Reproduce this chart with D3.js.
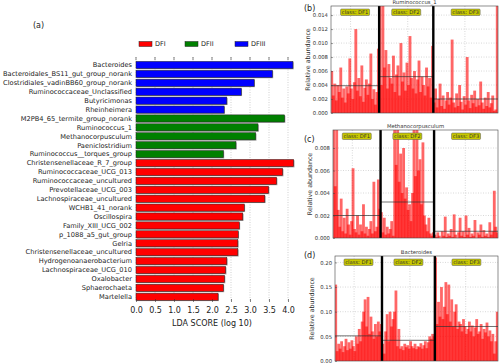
<!DOCTYPE html>
<html><head><meta charset="utf-8">
<script src="https://cdn.jsdelivr.net/npm/d3@7"></script>
<style>body{margin:0;background:#fff}svg{display:block;font-family:"DejaVu Sans",sans-serif}</style>
</head><body><svg id="c" width="500" height="364"></svg>
<script>
// ---------- panel (a) data ----------
const taxa = ["Bacteroides","Bacteroidales_BS11_gut_group_norank","Clostridiales_vadinBB60_group_norank","Ruminococcaceae_Unclassified","Butyricimonas","Rheinheimera","M2PB4_65_termite_group_norank","Ruminococcus_1","Methanocorpusculum","Paeniclostridium","Ruminococcus__torques_group","Christensenellaceae_R_7_group","Ruminococcaceae_UCG_013","Ruminococcaceae_uncultured","Prevotellaceae_UCG_003","Lachnospiraceae_uncultured","WCHB1_41_norank","Oscillospira","Family_XIII_UCG_002","p_1088_a5_gut_group","Gelria","Christensenellaceae_uncultured","Hydrogenoanaerobacterium","Lachnospiraceae_UCG_010","Oxalobacter","Sphaerochaeta","Martelella"];
const ldaScores = [4.13,3.59,3.11,2.77,2.39,2.32,3.91,3.21,3.15,2.63,2.30,4.15,3.86,3.70,3.49,3.39,2.85,2.81,2.72,2.69,2.68,2.68,2.39,2.36,2.33,2.30,2.16];
const taxaClass = ["DFIII","DFIII","DFIII","DFIII","DFIII","DFIII","DFII","DFII","DFII","DFII","DFII","DFI","DFI","DFI","DFI","DFI","DFI","DFI","DFI","DFI","DFI","DFI","DFI","DFI","DFI","DFI","DFI"];
const classNames = ["DFI","DFII","DFIII"];
const classColors = ["#ff0000","#008000","#0000ff"];
const ldaTicks = [0,0.5,1,1.5,2,2.5,3,3.5,4];

// ---------- panels (b)-(d) data: per-sample relative abundance ----------
const sectionNames = ["class: DF1","class: DF2","class: DF3"];
const rumDF1 = [6.0,2.5,4.2,1.8,4.0,3.0,6.5,2.2,3.5,1.5,3.8,2.8,7.8,3.5,2.0,4.4,12.0,3.2,5.0,2.4,6.8,1.6,3.6,4.8,2.6,4.2,8.5,2.0,3.4,1.2,3.0,9.2].map(v=>v/1000);
const rumDF2 = [15.3,4.0,15.3,6.5,9.0,3.5,7.0,5.0,4.2,8.2,3.0,5.5,6.8,2.5,10.0,4.5,5.8,3.2,7.2,4.0,11.0,5.0,3.5,6.0,2.8,4.8,7.5,3.0,5.2,4.0,2.5,6.5,3.8,5.0,2.2,9.6].map(v=>v/1000);
const rumDF3 = [1.5,3.5,0.8,2.0,4.2,1.0,2.5,0.6,1.8,3.0,1.2,2.2,10.5,1.5,0.8,2.8,1.0,4.0,1.6,0.5,2.4,1.2,8.0,1.8,0.7,2.6,1.4,3.2,0.9,2.0,1.1,4.5,1.5,0.6,2.2,1.0,3.0,0.8,1.4,2.5,0.3,0.5,15.3].map(v=>v/1000);
const rumMeans = [0.0039,0.0052,0.0020];
const rumTicks = [0,0.002,0.004,0.006,0.008,0.010,0.012,0.014];

const metDF1 = [9.6,4.6,9.6,2.5,1.0,3.5,0.6,1.8,0.4,2.6,1.2,0.3,1.5,6.2,0.8,0.5,2.0,0.3,1.2,0.6,3.0,0.4,1.0,0.2,0.8,1.5,0.4,5.0,0.6,1.0,5.2,2.6].map(v=>v/1000);
const metDF2 = [2.3,0.5,1.8,0.3,1.0,0.4,0.8,1.5,0.2,9.6,6.5,9.6,5.0,7.5,4.0,8.0,3.5,4.5,2.5,3.0,1.5,4.0,9.6,5.5,9.6,6.0,7.0,3.0,8.5,2.0,1.2,0.6,1.8,0.4,0.2,0.5].map(v=>v/1000);
const metDF3 = [0.3,0.1,0.5,0.2,0.0,0.6,0.2,1.9,0.1,0.4,0.2,0.8,0.1,2.1,0.3,0.0,0.5,1.8,0.2,0.6,0.1,2.0,0.3,0.9,0.1,0.4,0.2,1.6,0.0,0.5,0.3,1.2,0.1,0.7,0.2,0.4,0.1,1.4,0.3,0.6,4.2,1.0,0.5].map(v=>v/1000);
const metMeans = [0.0020,0.0032,0.0006];
const metTicks = [0,0.002,0.004,0.006,0.008];

const bacDF1 = [15.5,2.0,3.5,2.5,4.0,1.8,3.0,4.5,2.2,3.8,2.5,4.2,3.0,2.0,5.0,3.5,6.5,4.0,8.0,10.0,12.5,7.0,13.0,5.5,9.0,6.0,4.5,7.5,5.0,8.0,6.0,7.5].map(v=>v/100);
const bacDF2 = [3.5,1.5,6.0,9.5,4.0,10.0,7.0,8.5,10.0,14.3,3.0,6.5,2.5,3.0,2.2,3.5,2.8,3.2,2.5,4.0,3.0,2.6,3.5,2.4,3.0,2.8,3.6,2.5,3.2,4.0,2.6,3.8,5.0,4.5,5.5,5.0].map(v=>v/100);
const bacDF3 = [21.0,7.5,12.0,9.0,15.0,8.5,11.0,16.0,9.5,15.5,8.0,12.5,7.0,10.0,11.5,6.5,8.0,7.5,6.0,8.5,7.0,5.5,6.5,8.0,6.0,7.2,5.0,6.8,8.5,5.5,6.0,7.5,4.5,6.5,5.8,7.8,5.0,6.2,4.0,5.5,1.5,4.0,10.0].map(v=>v/100);
const bacMeans = [0.051,0.042,0.070];
const bacTicks = [0,0.05,0.10,0.15,0.20];

const svg = d3.select("#c");

// ---------- panel (a) ----------
svg.append("text").attr("x",33).attr("y",28).attr("font-size",8).attr("fill","#222").text("(a)");
const x = d3.scaleLinear().domain([0,4]).range([136,288]);
const y = d3.scaleBand().domain(taxa).range([60.5,301.2]).paddingInner(0.2).paddingOuter(0.1);
const color = d3.scaleOrdinal().domain(classNames).range(classColors);

const ga = svg.append("g");
ga.selectAll("line.grid").data(ldaTicks).join("line").attr("class","grid")
  .attr("x1",d=>x(d)).attr("x2",d=>x(d)).attr("y1",57).attr("y2",302)
  .attr("stroke","#b0b0b0").attr("stroke-width",0.6).attr("stroke-dasharray","1,1.5");
ga.selectAll("line.tt").data(ldaTicks).join("line").attr("class","tt")
  .attr("x1",d=>x(d)).attr("x2",d=>x(d)).attr("y1",57).attr("y2",60)
  .attr("stroke","#333").attr("stroke-width",0.6);

const bars = ga.selectAll("g.bar").data(taxa).join("g").attr("class","bar");
bars.append("rect").attr("x",x(0)+0.8).attr("y",d=>y(d)+0.8)
  .attr("width",(d,i)=>x(ldaScores[i])-x(0)).attr("height",y.bandwidth()).attr("fill","#a0a0a0");
bars.append("rect").attr("x",x(0)).attr("y",d=>y(d))
  .attr("width",(d,i)=>x(ldaScores[i])-x(0)).attr("height",y.bandwidth())
  .attr("fill",(d,i)=>color(taxaClass[i])).attr("stroke","#222").attr("stroke-width",0.5);
ga.selectAll("text.lab").data(taxa).join("text").attr("class","lab")
  .attr("x",132).attr("y",d=>y(d)+y.bandwidth()/2).attr("dy","0.35em")
  .attr("text-anchor","end").attr("font-size",6.65).attr("fill","#222").text(d=>d);

const xAxis = ga.append("g").attr("transform","translate(0,302)")
  .call(d3.axisBottom(x).tickValues(ldaTicks).tickFormat(d3.format(".1f")).tickSizeInner(-3).tickSizeOuter(0).tickPadding(5));
xAxis.select(".domain").remove();
xAxis.selectAll("line").attr("stroke","#333").attr("stroke-width",0.6);
xAxis.selectAll("text").attr("font-size",8).attr("fill","#222").attr("font-family","DejaVu Sans");
ga.append("text").attr("x",x(2)).attr("y",326).attr("text-anchor","middle").attr("font-size",8).attr("fill","#222").text("LDA SCORE (log 10)");

const legX = [139,185,235];
classNames.forEach((c,i)=>{
  ga.append("rect").attr("x",legX[i]).attr("y",41.5).attr("width",13).attr("height",5).attr("fill",classColors[i]).attr("stroke","#222").attr("stroke-width",0.5);
  ga.append("text").attr("x",legX[i]+16).attr("y",44).attr("dy","0.35em").attr("font-size",6.5).attr("fill","#222").text(c);
});

// ---------- panels (b)-(d) ----------
function drawPanel(cfg){
  const g = svg.append("g");
  const sections = cfg.sections;
  const total = d3.sum(sections, s=>s.length);
  const xs = d3.scaleLinear().domain([0,total]).range([cfg.left,cfg.right]);
  const ys = d3.scaleLinear().domain([0,cfg.yMax]).range([cfg.bottom,cfg.top]);
  const clipId = "clip"+cfg.letter;
  svg.append("clipPath").attr("id",clipId).append("rect")
    .attr("x",cfg.left).attr("y",cfg.top).attr("width",cfg.right-cfg.left).attr("height",cfg.bottom-cfg.top);
  g.selectAll("line.hg").data(cfg.ticks.slice(1)).join("line").attr("class","hg")
    .attr("x1",cfg.left).attr("x2",cfg.right).attr("y1",d=>ys(d)).attr("y2",d=>ys(d))
    .attr("stroke","#b0b0b0").attr("stroke-width",0.5).attr("stroke-dasharray","1,1.5");
  g.selectAll("line.vg").data(cfg.vgrid).join("line").attr("class","vg")
    .attr("x1",d=>xs(d)).attr("x2",d=>xs(d)).attr("y1",cfg.top).attr("y2",cfg.bottom)
    .attr("stroke","#b0b0b0").attr("stroke-width",0.5).attr("stroke-dasharray","1,1.5");
  const step = xs(1)-xs(0);
  const gb = g.append("g").attr("clip-path",`url(#${clipId})`);
  let offset = 0;
  const bounds = [];
  sections.forEach((s,si)=>{
    const start = offset;
    const end = offset + s.length;
    gb.selectAll(null).data(s).join("rect")
      .attr("x",(d,i)=>xs(start+i)-0.45*step)
      .attr("width",(d,i)=>Math.min(step*1.9, xs(end)-(xs(start+i)-0.45*step)))
      .attr("y",d=>ys(d)).attr("height",d=>ys(0)-ys(d))
      .attr("fill","#ff0000").attr("fill-opacity",0.6);
    offset = end;
    bounds.push([start,end]);
  });
  bounds.forEach((b,i)=>{
    g.append("line").attr("x1",xs(b[0])).attr("x2",xs(b[1])).attr("y1",ys(cfg.means[i])).attr("y2",ys(cfg.means[i]))
      .attr("stroke","#333").attr("stroke-width",0.7);
  });
  bounds.slice(0,-1).forEach(b=>{
    g.append("line").attr("x1",xs(b[1])).attr("x2",xs(b[1])).attr("y1",cfg.top).attr("y2",cfg.bottom)
      .attr("stroke","#000").attr("stroke-width",2.4);
  });
  g.append("rect").attr("x",cfg.left).attr("y",cfg.top).attr("width",cfg.right-cfg.left).attr("height",cfg.bottom-cfg.top)
    .attr("fill","none").attr("stroke","#444").attr("stroke-width",0.6);
  bounds.forEach((b,i)=>{
    const cx = (xs(b[0])+xs(b[1]))/2;
    g.append("rect").attr("x",cx-14.5).attr("y",cfg.top+3).attr("width",29).attr("height",6.5)
      .attr("rx",1).attr("fill","#c8c800").attr("stroke","#555").attr("stroke-width",0.5);
    g.append("text").attr("x",cx).attr("y",cfg.top+6.3).attr("dy","0.35em").attr("text-anchor","middle")
      .attr("font-size",5.2).attr("fill","#333").text(sectionNames[i]);
  });
  const ax = g.append("g").attr("transform",`translate(${cfg.left},0)`)
    .call(d3.axisLeft(ys).tickValues(cfg.ticks).tickFormat(d3.format(cfg.fmt)).tickSizeInner(-2).tickSizeOuter(0).tickPadding(3));
  ax.select(".domain").remove();
  ax.selectAll("line").attr("stroke","#444").attr("stroke-width",0.5);
  ax.selectAll("text").attr("font-size",5.3).attr("fill","#333").attr("font-family","DejaVu Sans");
  g.append("text").attr("transform",`translate(${cfg.left-21},${(cfg.top+cfg.bottom)/2}) rotate(-90)`)
    .attr("text-anchor","middle").attr("font-size",6.3).attr("fill","#333").text("Relative abundance");
  g.append("text").attr("x",(cfg.left+cfg.right)/2).attr("y",cfg.top-2).attr("text-anchor","middle")
    .attr("font-size",5.3).attr("fill","#333").text(cfg.title);
  g.append("text").attr("x",304).attr("y",cfg.letterY).attr("dy","0.35em").attr("font-size",8).attr("fill","#222").text(`(${cfg.letter})`);
}

drawPanel({letter:"b",title:"Ruminococcus_1",left:331,right:498,top:6,bottom:113,yMax:0.0153,ticks:rumTicks,fmt:".3f",
  sections:[rumDF1,rumDF2,rumDF3],means:rumMeans,vgrid:[13,51,89],letterY:8});
drawPanel({letter:"c",title:"Methanocorpusculum",left:333,right:498,top:130,bottom:238,yMax:0.0096,ticks:metTicks,fmt:".3f",
  sections:[metDF1,metDF2,metDF3],means:metMeans,vgrid:[13,51,89],letterY:139.5});
drawPanel({letter:"d",title:"Bacteroides",left:335,right:498,top:256,bottom:361,yMax:0.213,ticks:bacTicks,fmt:".2f",
  sections:[bacDF1,bacDF2,bacDF3],means:bacMeans,vgrid:[13,51,89],letterY:255.5});
</script>
</body></html>
